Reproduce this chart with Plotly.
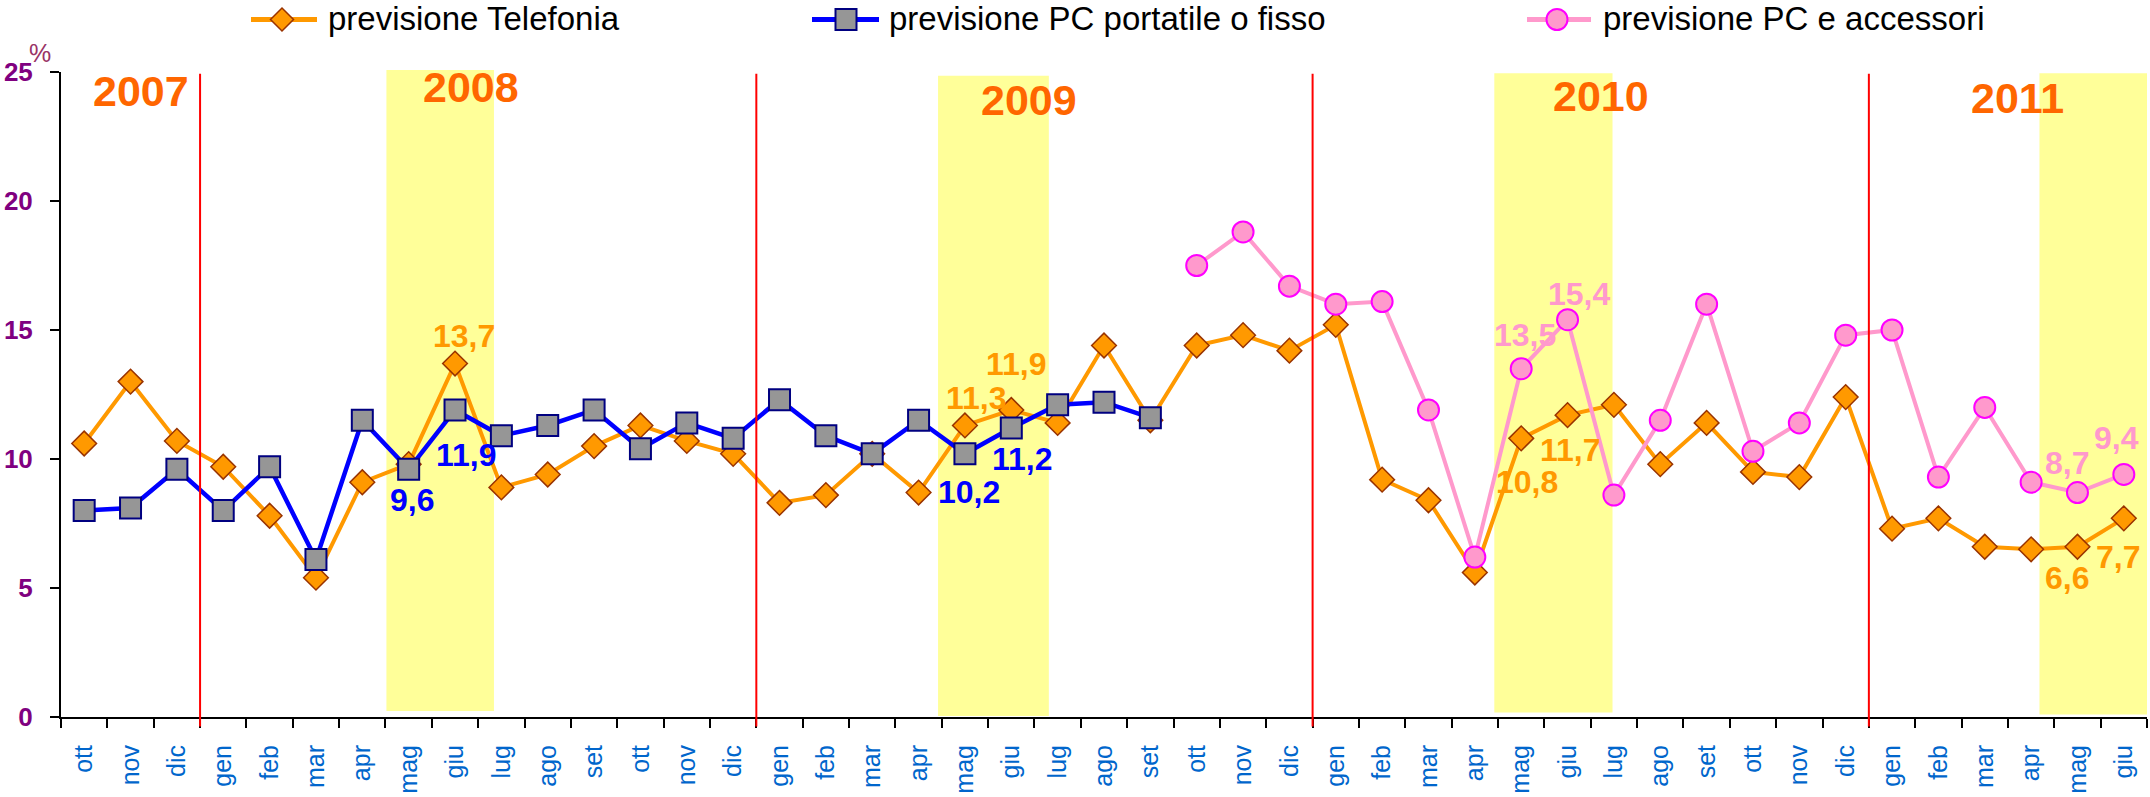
import plotly.graph_objects as go

# ---------------- data ----------------
months = (["ott", "nov", "dic"]
          + ["gen", "feb", "mar", "apr", "mag", "giu", "lug", "ago", "set", "ott", "nov", "dic"] * 3
          + ["gen", "feb", "mar", "apr", "mag", "giu"])

telefonia = [10.6, 13.0, 10.7,
             9.7, 7.8, 5.4, 9.1, 9.8, 13.7, 8.9, 9.4, 10.5, 11.3, 10.7, 10.2,
             8.3, 8.6, 10.2, 8.7, 11.3, 11.9, 11.4, 14.4, 11.5, 14.4, 14.8, 14.2,
             15.2, 9.2, 8.4, 5.6, 10.8, 11.7, 12.1, 9.8, 11.4, 9.5, 9.3, 12.4,
             7.3, 7.7, 6.6, 6.5, 6.6, 7.7]

pc_portatile = ([8.0, 8.1, 9.6,
                 8.0, 9.7, 6.1, 11.5, 9.6, 11.9, 10.9, 11.3, 11.9, 10.4, 11.4, 10.8,
                 12.3, 10.9, 10.2, 11.5, 10.2, 11.2, 12.1, 12.2, 11.6]
                + [None] * 21)

pc_accessori = ([None] * 24
                + [17.5, 18.8, 16.7,
                   16.0, 16.1, 11.9, 6.2, 13.5, 15.4, 8.6, 11.5, 16.0, 10.3, 11.4, 14.8,
                   15.0, 9.3, 12.0, 9.1, 8.7, 9.4])

years = ["2007", "2008", "2009", "2010", "2011"]
series_names = ["previsione Telefonia", "previsione PC portatile o fisso", "previsione PC e accessori"]

# indices of labelled points (mag / giu of each year)
lab_tel = [8, 19, 20, 31, 32, 43, 44]
lab_pc = [7, 8, 19, 20]
lab_acc = [31, 32, 43, 44]

# ---------------- layout helpers ----------------
W, H = 2150, 797
L, R, T, B = 61, 2147, 72, 717
FONT = "Liberation Sans, Arial, sans-serif"


def px_x(p):
    return (p - L) / (R - L)


def px_y(p):
    return (B - p) / (B - T)


x = list(range(len(months)))

C_TEL, C_TEL_EDGE = "#FF9900", "#993300"
C_PC, C_PC_FILL, C_PC_EDGE = "#0000FF", "#969696", "#000080"
C_ACC, C_ACC_EDGE = "#FF99CC", "#FF00FF"

fig = go.Figure()
fig.add_trace(go.Scatter(x=x, y=telefonia, mode="lines+markers", name=series_names[0],
                         line=dict(color=C_TEL, width=4),
                         marker=dict(symbol="diamond", size=19, color=C_TEL,
                                     line=dict(color=C_TEL_EDGE, width=1.5)),
                         showlegend=False, cliponaxis=False))
fig.add_trace(go.Scatter(x=x, y=pc_portatile, mode="lines+markers", name=series_names[1],
                         line=dict(color=C_PC, width=4.5),
                         marker=dict(symbol="square", size=21, color=C_PC_FILL,
                                     line=dict(color=C_PC_EDGE, width=2)),
                         showlegend=False, cliponaxis=False))
fig.add_trace(go.Scatter(x=x, y=pc_accessori, mode="lines+markers", name=series_names[2],
                         line=dict(color=C_ACC, width=4),
                         marker=dict(symbol="circle", size=21, color=C_ACC,
                                     line=dict(color=C_ACC_EDGE, width=2)),
                         showlegend=False, cliponaxis=False))

shapes = []
# yellow bands (mag-giu of each year)
band_spans = [(6.52, 8.84, 0.23, 25.08), (18.42, 20.81, 0.04, 24.85),
              (30.42, 32.97, 0.17, 24.95), (42.18, 44.5, 0.10, 24.95)]
for x0, x1, y0, y1 in band_spans:
    shapes.append(dict(type="rect", xref="x", yref="paper", x0=x0, x1=x1,
                       y0=y0 / 25, y1=y1 / 25, fillcolor="#FFFF99",
                       line=dict(width=0), layer="below"))
# red year separators
for xb in [2.5, 14.5, 26.5, 38.5]:
    shapes.append(dict(type="line", xref="x", yref="paper", x0=xb, x1=xb,
                       y0=-0.0148, y1=0.9972, line=dict(color="#FF0000", width=2),
                       layer="above"))

# custom legend
leg = [
    dict(l0=251, l1=317, c=282, t=326, col=C_TEL, fill=C_TEL, edge=C_TEL_EDGE, kind="diamond"),
    dict(l0=812, l1=879, c=846, t=887, col=C_PC, fill=C_PC_FILL, edge=C_PC_EDGE, kind="square"),
    dict(l0=1527, l1=1591, c=1557, t=1601, col=C_ACC, fill=C_ACC, edge=C_ACC_EDGE, kind="circle"),
]
ly = 19.5
annotations = []
for i, it in enumerate(leg):
    shapes.append(dict(type="line", xref="paper", yref="paper", x0=px_x(it["l0"]), x1=px_x(it["l1"]),
                       y0=px_y(ly), y1=px_y(ly), line=dict(color=it["col"], width=5)))
    cx, cy = it["c"], ly
    if it["kind"] == "diamond":
        r = 11.5
        path = "M{},{} L{},{} L{},{} L{},{} Z".format(
            px_x(cx - r), px_y(cy), px_x(cx), px_y(cy - r), px_x(cx + r), px_y(cy), px_x(cx), px_y(cy + r))
        shapes.append(dict(type="path", xref="paper", yref="paper", path=path,
                           fillcolor=it["fill"], line=dict(color=it["edge"], width=1.5)))
    elif it["kind"] == "square":
        r = 10.5
        shapes.append(dict(type="rect", xref="paper", yref="paper", x0=px_x(cx - r), x1=px_x(cx + r),
                           y0=px_y(cy + r), y1=px_y(cy - r), fillcolor=it["fill"],
                           line=dict(color=it["edge"], width=2)))
    else:
        r = 10.5
        shapes.append(dict(type="circle", xref="paper", yref="paper", x0=px_x(cx - r), x1=px_x(cx + r),
                           y0=px_y(cy + r), y1=px_y(cy - r), fillcolor=it["fill"],
                           line=dict(color=it["edge"], width=2)))
    annotations.append(dict(xref="paper", yref="paper", x=px_x(it["t"]), y=px_y(ly - 1),
                            xanchor="left", yanchor="middle", showarrow=False,
                            text=series_names[i], font=dict(family=FONT, size=33, color="black")))

# "%" label
annotations.append(dict(xref="paper", yref="paper", x=px_x(27), y=px_y(37), showarrow=False,
                        text="%", font=dict(family=FONT, size=25, color="#993366")))

# year labels
year_pos = [(1.23, 24.27), (8.34, 24.43), (20.38, 23.92), (32.72, 24.08), (41.7, 24.0)]
for yr, (xp, yp) in zip(years, year_pos):
    annotations.append(dict(xref="x", yref="y", x=xp, y=yp, showarrow=False, text=yr,
                            font=dict(family=FONT, size=43, color="#FF6600", weight="bold")))


def fmt(v):
    return ("%.1f" % v).replace(".", ",")


# data labels: pixel offsets of each label from its point
label_offsets = {
    ("tel", 8): (9, 28), ("tel", 19): (12, 27), ("tel", 20): (5, 46), ("tel", 31): (6, -44),
    ("tel", 32): (3, -35), ("tel", 43): (-10, -31), ("tel", 44): (-6, -39),
    ("pc", 7): (3, -31), ("pc", 8): (11, -45), ("pc", 19): (4, -38), ("pc", 20): (11, -31),
    ("acc", 31): (4, 34), ("acc", 32): (11, 26), ("acc", 43): (-10, 30), ("acc", 44): (-7, 36),
}
for key, vals, idxs, col in [("tel", telefonia, lab_tel, C_TEL), ("pc", pc_portatile, lab_pc, C_PC),
                             ("acc", pc_accessori, lab_acc, C_ACC)]:
    for i in idxs:
        dx, dy = label_offsets[(key, i)]
        annotations.append(dict(xref="x", yref="y", x=i, y=vals[i], xshift=dx, yshift=dy,
                                showarrow=False, text=fmt(vals[i]),
                                font=dict(family=FONT, size=32, color=col, weight="bold")))

fig.update_layout(
    width=W, height=H,
    margin=dict(l=L, r=W - R, t=T, b=H - B, pad=0, autoexpand=False),
    paper_bgcolor="white", plot_bgcolor="white",
    showlegend=False,
    shapes=shapes, annotations=annotations,
    font=dict(family=FONT),
    xaxis=dict(range=[-0.5, 44.5], tickmode="array", tickvals=x, ticktext=months,
               tickangle=-90, ticks="", showline=True, linecolor="black", linewidth=2,
               tickfont=dict(family=FONT, size=25, color="#0066CC"),
               ticklabelstandoff=16, showgrid=False, zeroline=False, automargin=False,
               minor=dict(tickmode="array", tickvals=[i - 0.5 for i in range(46)],
                          ticks="outside", ticklen=9, tickwidth=2, tickcolor="black",
                          showgrid=False)),
    yaxis=dict(range=[0, 25], tickmode="array", tickvals=[0, 5, 10, 15, 20, 25],
               ticks="outside", ticklen=9, tickwidth=2, tickcolor="black",
               showline=True, linecolor="black", linewidth=2,
               tickfont=dict(family=FONT, size=26, color="#800080", weight="bold"),
               ticklabelstandoff=12, showgrid=False, zeroline=False, automargin=False),
)

fig.write_html("out.html", config={"displayModeBar": False},
               post_script="document.body.style.margin='0';document.body.style.overflow='hidden';")
